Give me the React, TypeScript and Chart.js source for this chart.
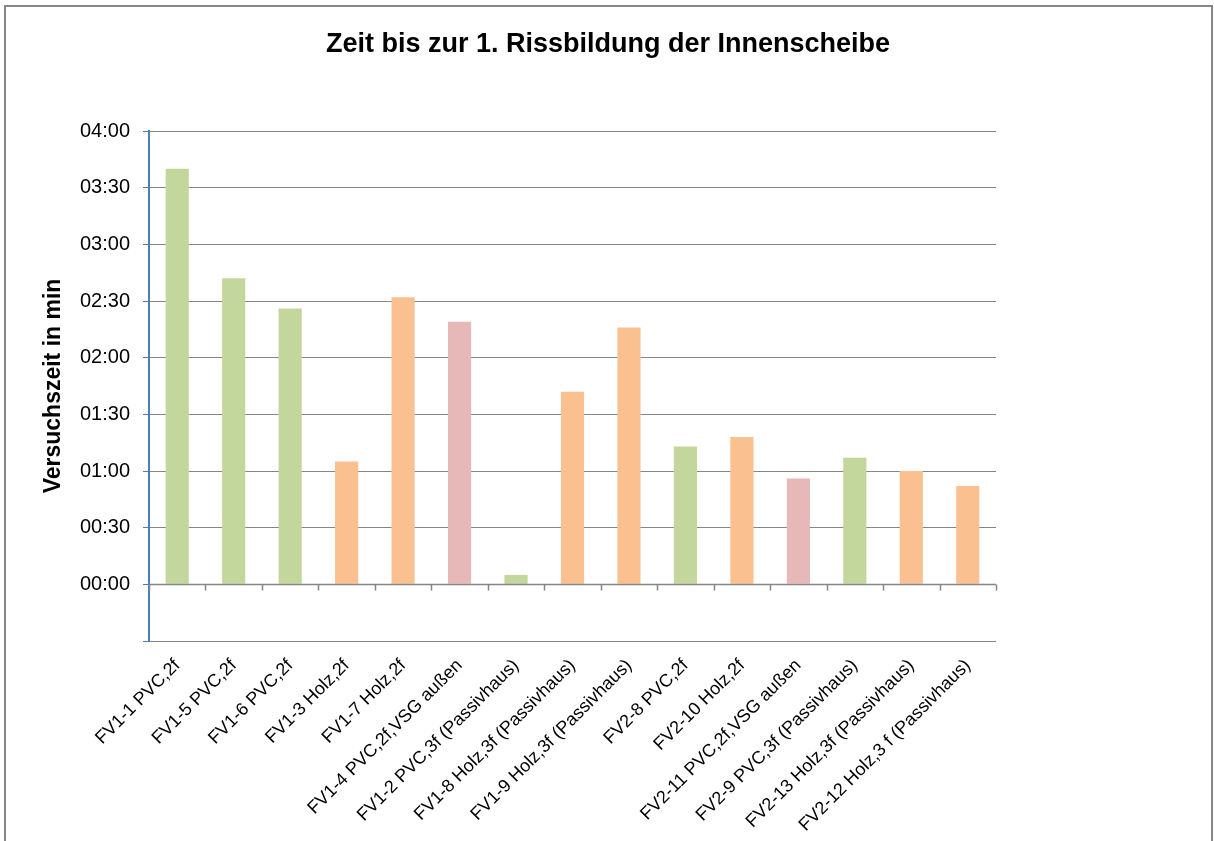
import React, { useEffect, useRef } from "react";
import { Chart, registerables } from "chart.js";

Chart.register(...registerables);

const title = "Zeit bis zur 1. Rissbildung der Innenscheibe";
const yAxisTitle = "Versuchszeit in min";

const categories = [
  "FV1-1 PVC,2f",
  "FV1-5 PVC,2f",
  "FV1-6 PVC,2f",
  "FV1-3 Holz,2f",
  "FV1-7 Holz,2f",
  "FV1-4 PVC,2f,VSG außen",
  "FV1-2 PVC,3f (Passivhaus)",
  "FV1-8 Holz,3f (Passivhaus)",
  "FV1-9 Holz,3f (Passivhaus)",
  "FV2-8 PVC,2f",
  "FV2-10 Holz,2f",
  "FV2-11 PVC,2f,VSG außen",
  "FV2-9 PVC,3f (Passivhaus)",
  "FV2-13 Holz,3f (Passivhaus)",
  "FV2-12 Holz,3 f (Passivhaus)",
];

// time until first crack, in minutes
const minutes = [220, 162, 146, 65, 152, 139, 5, 102, 136, 73, 78, 56, 67, 60, 52];

const yMin = -30;
const yMax = 240;
const yStep = 30;

const GREEN = "#C3D69B";
const ORANGE = "#FAC090";
const PINK = "#E6B9B8";

function colorFor(label: string): string {
  if (label.includes("VSG")) return PINK;
  if (label.includes("Holz")) return ORANGE;
  return GREEN;
}

function fmt(v: number): string {
  const h = Math.floor(v / 60);
  const m = Math.round(v - h * 60);
  return String(h).padStart(2, "0") + ":" + String(m).padStart(2, "0");
}

const framePlugin = {
  id: "frameAndAxis",
  afterDraw(chart: any) {
    const { ctx, chartArea, scales } = chart;
    const y0 = Math.round(scales.y.getPixelForValue(0)) + 0.5;
    const n = categories.length;
    const w = (chartArea.right - chartArea.left) / n;
    ctx.save();
    // category axis at zero
    ctx.strokeStyle = "#868686";
    ctx.lineWidth = 1.5;
    ctx.beginPath();
    ctx.moveTo(chartArea.left, y0);
    ctx.lineTo(chartArea.right, y0);
    for (let i = 0; i <= n; i++) {
      const x = Math.round(chartArea.left + i * w) + 0.5;
      ctx.moveTo(x, y0);
      ctx.lineTo(x, y0 + 6);
    }
    ctx.stroke();
    // outer frame
    ctx.strokeStyle = "#868686";
    ctx.lineWidth = 2;
    ctx.strokeRect(5, 6, 1207, 900);
    // title
    ctx.fillStyle = "#000";
    ctx.font = 'bold 27px "Liberation Sans", Arial, sans-serif';
    ctx.textAlign = "center";
    ctx.textBaseline = "middle";
    ctx.fillText(title, 608, 45);
    ctx.restore();
  },
};

export default function App() {
  const ref = useRef<HTMLCanvasElement | null>(null);

  useEffect(() => {
    if (!ref.current) return;
    const chart = new Chart(ref.current, {
      type: "bar",
      data: {
        labels: categories,
        datasets: [
          {
            data: minutes,
            backgroundColor: categories.map(colorFor),
            borderWidth: 0,
            categoryPercentage: 1,
            barPercentage: 0.41,
          },
        ],
      },
      options: {
        animation: false,
        responsive: false,
        devicePixelRatio: 1,
        layout: { padding: { top: 131, left: 0, right: 218, bottom: 0 } },
        plugins: {
          legend: { display: false },
          title: { display: false },
          tooltip: { enabled: false },
        },
        scales: {
          x: {
            type: "category",
            offset: true,
            grid: { display: false, drawTicks: false },
            border: { display: false },
            ticks: {
              color: "#000",
              font: { family: '"Liberation Sans", Arial, sans-serif', size: 18 },
              minRotation: 45,
              maxRotation: 45,
              autoSkip: false,
              padding: 14,
            },
            afterFit(scale: any) {
              scale.height = 200;
            },
          },
          y: {
            min: yMin,
            max: yMax,
            grid: {
              color: "#868686",
              lineWidth: 1,
              tickColor: "#4A7EBB",
              tickLength: 6,
            },
            border: { color: "#4A7EBB", width: 2 },
            ticks: {
              stepSize: yStep,
              color: "#000",
              padding: 13,
              font: { family: '"Liberation Sans", Arial, sans-serif', size: 20 },
              callback: (v: any) => (Number(v) < 0 ? "" : fmt(Number(v))),
            },
            title: {
              display: true,
              text: yAxisTitle,
              color: "#000",
              font: { family: '"Liberation Sans", Arial, sans-serif', size: 23, weight: "bold" },
              padding: { top: 40, bottom: 0 },
            },
            afterFit(scale: any) {
              scale.width = 149;
            },
          },
        },
      },
      plugins: [framePlugin],
    });
    return () => chart.destroy();
  }, []);

  return (
    <canvas
      ref={ref}
      width={1214}
      height={841}
      style={{ position: "absolute", left: 0, top: 0, width: 1214, height: 841, background: "#fff" }}
    />
  );
}
